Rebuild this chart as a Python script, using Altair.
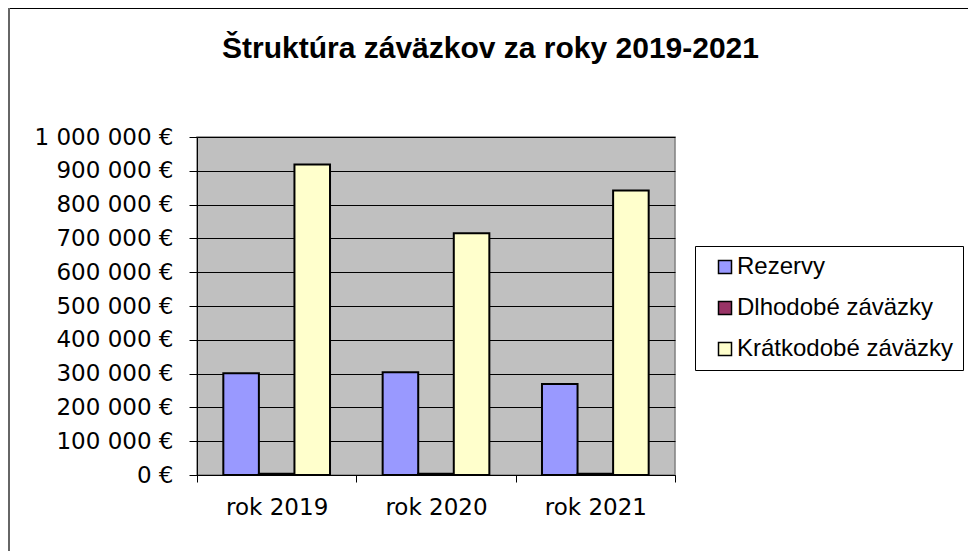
import altair as alt
import pandas as pd

# --- data ---
chart_title = "Štruktúra záväzkov za roky 2019-2021"
years = ["rok 2019", "rok 2020", "rok 2021"]
series = ["Rezervy", "Dlhodobé záväzky", "Krátkodobé záväzky"]
rezervy = [301000, 304000, 269000]
dlhodobe = [4000, 4000, 4000]
kratkodobe = [919000, 715000, 842000]
colors = ["#9999FF", "#993366", "#FFFFCC"]
y_ticks = [0, 100000, 200000, 300000, 400000, 500000, 600000, 700000, 800000, 900000, 1000000]

rows = []
for name, vals in zip(series, [rezervy, dlhodobe, kratkodobe]):
    for yr, v in zip(years, vals):
        rows.append({"rok": yr, "séria": name, "hodnota": v})
df = pd.DataFrame(rows)

FONT = "Liberation Sans"
AXFONT = "DejaVu Sans"
W, H = 478, 338

bars = alt.Chart(df).mark_bar(stroke="black", strokeWidth=2).encode(
    x=alt.X("rok:N", sort=years,
            scale=alt.Scale(paddingInner=0, paddingOuter=0),
            axis=alt.Axis(title=None, labelAngle=0, tickBand="extent",
                          labelFontSize=23, labelFont=AXFONT, labelColor="black",
                          labelPadding=14, tickSize=7, tickColor="black",
                          domainColor="black", grid=False, labelBaseline="top")),
    xOffset=alt.XOffset("séria:N", sort=series,
                        scale=alt.Scale(paddingInner=0, paddingOuter=0.74)),
    y=alt.Y("hodnota:Q",
            scale=alt.Scale(domain=[0, 1000000], nice=False),
            axis=alt.Axis(title=None, values=y_ticks,
                          labelExpr="replace(format(datum.value, ',.0f'), regexp(',', 'g'), '\u00a0') + '\u00a0€'",
                          labelFontSize=23, labelFont=AXFONT, labelColor="black",
                          labelPadding=16, tickSize=8, tickColor="black",
                          domainColor="black", grid=True, gridColor="black",
                          gridOpacity=1, gridWidth=1)),
    color=alt.Color("séria:N", sort=series,
                    scale=alt.Scale(domain=series, range=colors),
                    legend=alt.Legend(title=None, orient="none",
                                      legendX=498, legendY=109,
                                      symbolType="square", symbolSize=169,
                                      symbolStrokeColor="black", symbolStrokeWidth=1.5,
                                      symbolOffset=9, labelOffset=0, labelLimit=400,
                                      labelFontSize=24, labelFont=FONT, labelColor="black",
                                      padding=9, rowPadding=17,
                                      strokeColor="black", fillColor="white")),
)

title = alt.Chart(pd.DataFrame({"t": [chart_title]})).mark_text(
    font=FONT, fontSize=30, fontWeight="bold", color="black",
    align="center", baseline="alphabetic"
).encode(text="t:N", x=alt.value(293.5), y=alt.value(-79))

frame_top = alt.Chart(pd.DataFrame({"a": [0]})).mark_rule(color="black", strokeWidth=1).encode(
    x=alt.value(-188.5), x2=alt.value(771), y=alt.value(-128.5))
frame_left = alt.Chart(pd.DataFrame({"a": [0]})).mark_rule(color="#666666", strokeWidth=2).encode(
    x=alt.value(-188), y=alt.value(-129), y2=alt.value(414))

chart = alt.layer(bars, title, frame_top, frame_left).properties(
    width=W, height=H,
    autosize=alt.AutoSizeParams(type="none"),
    padding={"left": 189, "top": 129, "right": 293, "bottom": 76},
).configure(
    background="white"
).configure_view(
    fill="#C0C0C0", stroke="#808080", strokeWidth=1.5
)

chart.save("out.html", embed_options={"renderer": "svg", "actions": False})
